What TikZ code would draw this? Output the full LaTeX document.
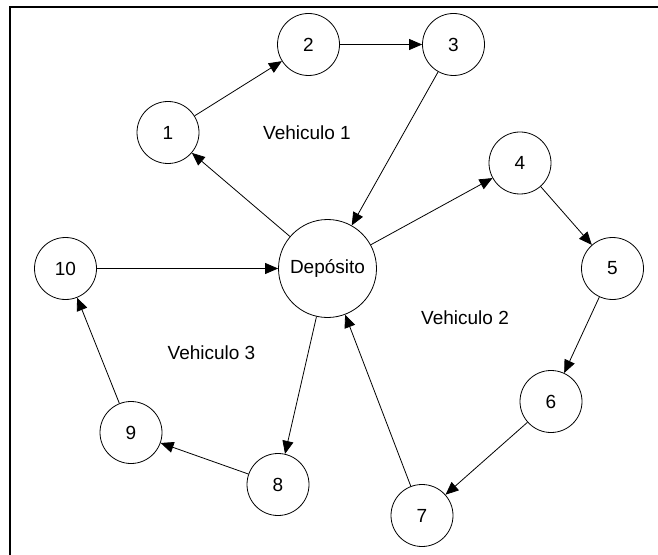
\documentclass[tikz,border=0pt]{standalone}
\usepackage{fontspec}
\setmainfont{Liberation Sans}
\usetikzlibrary{arrows.meta}
\begin{document}
\begin{tikzpicture}[x=1bp,y=-1bp,
  stop/.style={circle,draw,line width=0.8bp,minimum size=62bp,inner sep=0pt,
    font=\fontsize{19bp}{22bp}\selectfont},
  depot/.style={stop,minimum size=98bp},
  label/.style={font=\fontsize{19bp}{22bp}\selectfont},
  route/.style={line width=0.8bp,-{Triangle[length=13bp,width=11bp]}}]
\useasboundingbox (0,0) rectangle (658,555);
% frame (top and left edges)
\draw[line width=2bp] (10,555) -- (10,7) -- (658,7);
% stops
\node[depot] (d) at (327.5,268.5) {Depósito};
\node[stop] (n1) at (168,132.5) {1};
\node[stop] (n2) at (308.5,44.5) {2};
\node[stop] (n3) at (453.5,44.5) {3};
\node[stop] (n4) at (520,163) {4};
\node[stop] (n5) at (612.5,268.5) {5};
\node[stop] (n6) at (551,401.5) {6};
\node[stop] (n7) at (422,515.5) {7};
\node[stop] (n8) at (278,484.5) {8};
\node[stop] (n9) at (131,432.5) {9};
\node[stop] (n10) at (65.5,268.5) {10};
% route labels
\node[label] (v1) at (307,133) {Vehiculo 1};
\node[label] (v2) at (465,318) {Vehiculo 2};
\node[label] (v3) at (211.5,353) {Vehiculo 3};
% vehicle 1
\draw[route] (d) -- (n1);
\draw[route] (n1) -- (n2);
\draw[route] (n2) -- (n3);
\draw[route] (n3) -- (d);
% vehicle 2
\draw[route] (d) -- (n4);
\draw[route] (n4) -- (n5);
\draw[route] (n5) -- (n6);
\draw[route] (n6) -- (n7);
\draw[route] (n7) -- (d);
% vehicle 3
\draw[route] (d) -- (n8);
\draw[route] (n8) -- (n9);
\draw[route] (n9) -- (n10);
\draw[route] (n10) -- (d);
\end{tikzpicture}
\end{document}
